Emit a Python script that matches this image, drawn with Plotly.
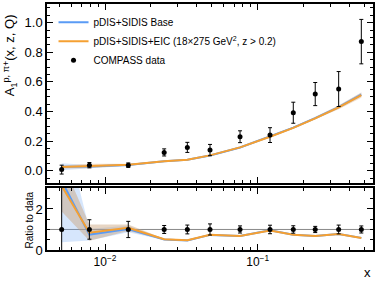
import plotly.graph_objects as go

# ---- data ----
x_vals = [0.0052, 0.0079, 0.0142, 0.0244, 0.0346, 0.0487, 0.0766, 0.1204, 0.171, 0.238, 0.339, 0.477]
data_y = [0.008, 0.038, 0.038, 0.124, 0.158, 0.140, 0.230, 0.241, 0.392, 0.518, 0.552, 0.872]
data_err = [0.030, 0.018, 0.015, 0.024, 0.034, 0.038, 0.040, 0.050, 0.071, 0.078, 0.118, 0.150]

base_y = [0.027, 0.0285, 0.039, 0.064, 0.074, 0.103, 0.157, 0.231, 0.291, 0.356, 0.430, 0.515]
base_err = [0.024, 0.011, 0.006, 0.004, 0.004, 0.004, 0.005, 0.006, 0.007, 0.009, 0.011, 0.014]
eic_y = [0.025, 0.032, 0.041, 0.065, 0.075, 0.104, 0.158, 0.230, 0.290, 0.354, 0.428, 0.511]
eic_err = [0.010, 0.015, 0.006, 0.003, 0.003, 0.004, 0.005, 0.006, 0.007, 0.009, 0.012, 0.018]

xtick_vals = [0.01, 0.1]
xtick_text = ["10<sup>−2</sup>", "10<sup>−1</sup>"]

BLUE = "#5A9BF5"
ORANGE = "#F5A032"
FONT = "Liberation Sans"

ratio_data_err = [e / d for e, d in zip(data_err, data_y)]
ratio_base = [b / d for b, d in zip(base_y, data_y)]
ratio_base_lo = [(b - e) / d for b, e, d in zip(base_y, base_err, data_y)]
ratio_base_hi = [(b + e) / d for b, e, d in zip(base_y, base_err, data_y)]
ratio_eic = [b / d for b, d in zip(eic_y, data_y)]
ratio_eic_lo = [(b - e) / d for b, e, d in zip(eic_y, eic_err, data_y)]
ratio_eic_hi = [(b + e) / d for b, e, d in zip(eic_y, eic_err, data_y)]

fig = go.Figure()


def band(xs, lo, hi, color, opacity, xa, ya):
    fig.add_trace(go.Scatter(
        x=list(xs) + list(xs)[::-1], y=list(hi) + list(lo)[::-1],
        fill="toself", fillcolor=color, opacity=opacity, line=dict(width=0),
        mode="lines", showlegend=False, hoverinfo="skip", xaxis=xa, yaxis=ya))


# main panel
band(x_vals, [b - e for b, e in zip(base_y, base_err)], [b + e for b, e in zip(base_y, base_err)],
     BLUE, 0.25, "x", "y")
band(x_vals, [b - e for b, e in zip(eic_y, eic_err)], [b + e for b, e in zip(eic_y, eic_err)],
     "#D9A066", 0.35, "x", "y")
fig.add_trace(go.Scatter(x=x_vals, y=base_y, mode="lines", line=dict(color=BLUE, width=2),
                         name="pDIS+SIDIS Base", xaxis="x", yaxis="y"))
fig.add_trace(go.Scatter(x=x_vals, y=eic_y, mode="lines", line=dict(color=ORANGE, width=2),
                         name="pDIS+SIDIS+EIC (18×275 GeV<sup>2</sup>, z > 0.2)", xaxis="x", yaxis="y"))
fig.add_trace(go.Scatter(x=x_vals, y=data_y, mode="markers",
                         marker=dict(color="black", size=5),
                         error_y=dict(type="data", array=data_err, color="black", thickness=1, width=2),
                         name="COMPASS data", xaxis="x", yaxis="y"))

# ratio panel
band(x_vals, ratio_base_lo, ratio_base_hi, BLUE, 0.25, "x2", "y2")
band(x_vals, ratio_eic_lo, ratio_eic_hi, "#C9A27A", 0.45, "x2", "y2")
fig.add_trace(go.Scatter(x=x_vals, y=ratio_base, mode="lines", line=dict(color=BLUE, width=2),
                         showlegend=False, xaxis="x2", yaxis="y2"))
fig.add_trace(go.Scatter(x=x_vals, y=ratio_eic, mode="lines", line=dict(color=ORANGE, width=2),
                         showlegend=False, xaxis="x2", yaxis="y2"))
fig.add_trace(go.Scatter(x=x_vals, y=[1] * len(x_vals), mode="markers",
                         marker=dict(color="black", size=5),
                         error_y=dict(type="data", array=ratio_data_err, color="black", thickness=1, width=2),
                         showlegend=False, xaxis="x2", yaxis="y2"))

fig.add_shape(type="line", xref="x2 domain", yref="y2", x0=0, x1=1, y0=1, y1=1,
              line=dict(color="#888888", width=1), layer="below")

xrange = [-2.38, -0.245]
common_x = dict(type="log", range=xrange, showline=True, linecolor="black", linewidth=1.5,
                mirror="allticks", ticks="inside", ticklen=6, tickcolor="black",
                tickvals=xtick_vals, ticktext=xtick_text, showgrid=False, zeroline=False,
                automargin=False,
                minor=dict(ticks="inside", ticklen=3, tickcolor="black", dtick="D1", showgrid=False),
                tickfont=dict(family=FONT, size=12, color="black"))
common_y = dict(showline=True, linecolor="black", linewidth=1.5, mirror="allticks",
                ticks="inside", ticklen=6, tickcolor="black", showgrid=False, zeroline=False,
                automargin=False,
                tickfont=dict(family=FONT, size=13, color="black"))

fig.update_layout(
    width=381, height=287,
    margin=dict(l=47, r=8, t=4, b=37, autoexpand=False),
    plot_bgcolor="white", paper_bgcolor="white",
    font=dict(family=FONT, color="black"),
    xaxis=dict(**common_x, anchor="y", showticklabels=False),
    xaxis2=dict(**common_x, anchor="y2", matches="x"),
    yaxis=dict(**common_y, domain=[0.272, 1.0], range=[-0.083, 1.126], dtick=0.2, tickformat=".1f",
               minor=dict(ticks="inside", ticklen=3, tickcolor="black", dtick=0.05)),
    yaxis2=dict(**common_y, domain=[0.0, 0.252], range=[0, 3.02], tickvals=[0, 2],
                minor=dict(ticks="inside", ticklen=3, tickcolor="black", dtick=0.5)),
    legend=dict(x=0.02, y=0.985, xanchor="left", yanchor="top", bgcolor="rgba(0,0,0,0)",
                font=dict(family=FONT, size=10), tracegroupgap=0, itemwidth=30),
    showlegend=True,
)

fig.add_annotation(text="A<sub>1</sub><sup>p, π+</sup>(x, z, Q)", xref="paper", yref="paper",
                   x=-0.115, y=0.79, textangle=-90, showarrow=False,
                   font=dict(family=FONT, size=13), xanchor="center", yanchor="middle")
fig.add_annotation(text="Ratio to data", xref="paper", yref="paper",
                   x=-0.055, y=0.12, textangle=-90, showarrow=False,
                   font=dict(family=FONT, size=10), xanchor="center", yanchor="middle")
fig.add_annotation(text="x", xref="paper", yref="paper", x=1.0, y=-0.09, showarrow=False,
                   font=dict(family=FONT, size=13), xanchor="right", yanchor="middle")

fig.write_html("out.html", config={"displayModeBar": False},
               post_script="document.body.style.margin='0';document.body.style.overflow='hidden';")
